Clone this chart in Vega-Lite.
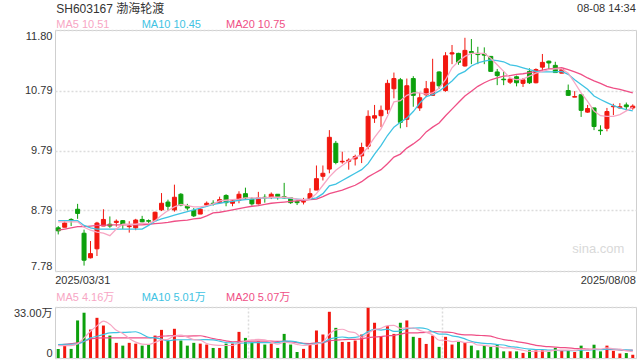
{
  "$schema": "https://vega.github.io/schema/vega-lite/v6.json",
  "padding": {"left": 0, "top": 2, "right": 5, "bottom": 5},
  "background": "white",
  "config": {
    "font": "Liberation Sans, Noto Sans CJK SC",
    "view": {"stroke": "#cfcfcf", "strokeWidth": 1},
    "axis": {"domain": false, "ticks": false, "labelFont": "Liberation Sans, Noto Sans CJK SC", "labelFontSize": 11, "labelColor": "#333333", "gridColor": "#dcdcdc", "gridDash": [2, 2], "gridWidth": 1.5},
    "text": {"font": "Liberation Sans, Noto Sans CJK SC"},
    "concat": {"spacing": 5}
  },
  "datasets": {
    "k": [
      {"d":"2025/03/31","o":8.50,"h":8.53,"l":8.39,"c":8.45,"v":5.9,"m5":8.60,"m10":8.62,"m20":8.46,"a5":8.0,"a10":8.7,"a20":8.7},
      {"d":"2025/04/01","o":8.51,"h":8.61,"l":8.51,"c":8.58,"v":8.7,"m5":8.60,"m10":8.62,"m20":8.48,"a5":8.0,"a10":8.9,"a20":8.9},
      {"d":"2025/04/02","o":8.64,"h":8.66,"l":8.53,"c":8.62,"v":5.9,"m5":8.60,"m10":8.62,"m20":8.50,"a5":8.0,"a10":8.9,"a20":9.3},
      {"d":"2025/04/03","o":8.81,"h":8.90,"l":8.65,"c":8.74,"v":24.3,"m5":8.60,"m10":8.62,"m20":8.52,"a5":9.3,"a10":9.1,"a20":9.8},
      {"d":"2025/04/07","o":8.41,"h":8.47,"l":7.87,"c":7.96,"v":29.3,"m5":8.51,"m10":8.54,"m20":8.52,"a5":13.0,"a10":10.8,"a20":10.6},
      {"d":"2025/04/08","o":8.00,"h":8.28,"l":7.99,"c":8.07,"v":18.4,"m5":8.46,"m10":8.50,"m20":8.53,"a5":17.3,"a10":13.0,"a20":12.4},
      {"d":"2025/04/09","o":8.15,"h":8.60,"l":8.03,"c":8.58,"v":26.0,"m5":8.43,"m10":8.48,"m20":8.54,"a5":20.8,"a10":14.1,"a20":12.8},
      {"d":"2025/04/10","o":8.53,"h":8.81,"l":8.53,"c":8.64,"v":21.0,"m5":8.41,"m10":8.48,"m20":8.54,"a5":23.8,"a10":15.2,"a20":13.0},
      {"d":"2025/04/11","o":8.56,"h":8.69,"l":8.50,"c":8.53,"v":14.5,"m5":8.37,"m10":8.48,"m20":8.55,"a5":21.8,"a10":16.3,"a20":13.0},
      {"d":"2025/04/14","o":8.59,"h":8.64,"l":8.52,"c":8.61,"v":9.8,"m5":8.48,"m10":8.48,"m20":8.55,"a5":17.9,"a10":16.4,"a20":13.0},
      {"d":"2025/04/15","o":8.62,"h":8.63,"l":8.48,"c":8.56,"v":8.0,"m5":8.56,"m10":8.48,"m20":8.55,"a5":15.9,"a10":16.6,"a20":13.0},
      {"d":"2025/04/16","o":8.52,"h":8.61,"l":8.42,"c":8.53,"v":9.8,"m5":8.56,"m10":8.48,"m20":8.55,"a5":12.6,"a10":16.7,"a20":13.0},
      {"d":"2025/04/17","o":8.50,"h":8.65,"l":8.46,"c":8.63,"v":9.3,"m5":8.56,"m10":8.48,"m20":8.55,"a5":10.3,"a10":17.0,"a20":13.0},
      {"d":"2025/04/18","o":8.64,"h":8.70,"l":8.59,"c":8.60,"v":8.0,"m5":8.58,"m10":8.48,"m20":8.55,"a5":9.0,"a10":15.4,"a20":13.0},
      {"d":"2025/04/21","o":8.62,"h":8.64,"l":8.55,"c":8.61,"v":8.7,"m5":8.57,"m10":8.54,"m20":8.56,"a5":8.8,"a10":13.4,"a20":13.0},
      {"d":"2025/04/22","o":8.62,"h":8.77,"l":8.62,"c":8.76,"v":14.5,"m5":8.62,"m10":8.61,"m20":8.57,"a5":10.1,"a10":13.0,"a20":13.4},
      {"d":"2025/04/23","o":8.80,"h":9.08,"l":8.78,"c":8.91,"v":18.2,"m5":8.71,"m10":8.65,"m20":8.58,"a5":11.7,"a10":12.2,"a20":14.1},
      {"d":"2025/04/24","o":8.93,"h":8.97,"l":8.78,"c":8.86,"v":11.3,"m5":8.79,"m10":8.68,"m20":8.59,"a5":12.1,"a10":11.2,"a20":14.3},
      {"d":"2025/04/25","o":8.80,"h":9.22,"l":8.77,"c":9.01,"v":18.9,"m5":8.85,"m10":8.71,"m20":8.61,"a5":14.3,"a10":11.7,"a20":14.5},
      {"d":"2025/04/28","o":9.06,"h":9.08,"l":8.86,"c":8.88,"v":11.3,"m5":8.89,"m10":8.74,"m20":8.62,"a5":14.8,"a10":11.8,"a20":14.1},
      {"d":"2025/04/29","o":8.86,"h":8.90,"l":8.79,"c":8.83,"v":8.0,"m5":8.87,"m10":8.77,"m20":8.63,"a5":13.5,"a10":11.8,"a20":14.2},
      {"d":"2025/04/30","o":8.79,"h":8.83,"l":8.68,"c":8.70,"v":9.8,"m5":8.85,"m10":8.80,"m20":8.65,"a5":11.9,"a10":11.8,"a20":14.3},
      {"d":"2025/05/06","o":8.73,"h":8.83,"l":8.73,"c":8.81,"v":9.3,"m5":8.85,"m10":8.83,"m20":8.66,"a5":11.5,"a10":11.8,"a20":14.4},
      {"d":"2025/05/07","o":8.88,"h":8.94,"l":8.86,"c":8.91,"v":8.7,"m5":8.87,"m10":8.86,"m20":8.70,"a5":9.4,"a10":11.9,"a20":13.6},
      {"d":"2025/05/08","o":8.91,"h":8.96,"l":8.87,"c":8.90,"v":6.5,"m5":8.90,"m10":8.89,"m20":8.75,"a5":8.5,"a10":11.7,"a20":12.5},
      {"d":"2025/05/09","o":8.92,"h":9.02,"l":8.92,"c":8.97,"v":6.5,"m5":8.95,"m10":8.91,"m20":8.76,"a5":8.2,"a10":10.9,"a20":11.9},
      {"d":"2025/05/12","o":9.04,"h":9.06,"l":8.86,"c":8.92,"v":9.3,"m5":8.96,"m10":8.93,"m20":8.78,"a5":8.1,"a10":10.0,"a20":11.1},
      {"d":"2025/05/13","o":8.91,"h":8.98,"l":8.86,"c":8.95,"v":9.3,"m5":8.97,"m10":8.94,"m20":8.80,"a5":8.1,"a10":9.8,"a20":10.5},
      {"d":"2025/05/14","o":8.96,"h":9.11,"l":8.91,"c":9.06,"v":16.9,"m5":8.98,"m10":8.96,"m20":8.82,"a5":9.7,"a10":9.6,"a20":10.6},
      {"d":"2025/05/15","o":9.07,"h":9.17,"l":8.97,"c":9.00,"v":13.0,"m5":9.00,"m10":8.97,"m20":8.84,"a5":11.0,"a10":9.7,"a20":10.8},
      {"d":"2025/05/16","o":8.98,"h":9.01,"l":8.87,"c":8.90,"v":9.8,"m5":9.00,"m10":8.98,"m20":8.86,"a5":11.7,"a10":9.9,"a20":10.9},
      {"d":"2025/05/19","o":8.90,"h":9.10,"l":8.89,"c":9.00,"v":10.8,"m5":9.00,"m10":8.99,"m20":8.87,"a5":12.0,"a10":10.0,"a20":10.9},
      {"d":"2025/05/20","o":9.01,"h":9.06,"l":8.92,"c":9.00,"v":8.7,"m5":9.00,"m10":9.00,"m20":8.89,"a5":11.8,"a10":10.0,"a20":10.9},
      {"d":"2025/05/21","o":9.01,"h":9.09,"l":8.98,"c":9.06,"v":9.3,"m5":9.01,"m10":9.00,"m20":8.91,"a5":10.3,"a10":10.0,"a20":10.9},
      {"d":"2025/05/22","o":9.06,"h":9.06,"l":8.97,"c":9.02,"v":6.5,"m5":9.01,"m10":9.00,"m20":8.92,"a5":9.0,"a10":10.0,"a20":10.8},
      {"d":"2025/05/23","o":9.02,"h":9.25,"l":8.99,"c":9.00,"v":15.6,"m5":9.01,"m10":9.00,"m20":8.93,"a5":10.2,"a10":10.9,"a20":10.9},
      {"d":"2025/05/26","o":9.00,"h":9.00,"l":8.90,"c":8.92,"v":8.7,"m5":9.00,"m10":8.99,"m20":8.94,"a5":9.8,"a10":10.9,"a20":10.4},
      {"d":"2025/05/27","o":8.94,"h":8.96,"l":8.88,"c":8.92,"v":3.9,"m5":8.98,"m10":8.98,"m20":8.95,"a5":8.8,"a10":10.3,"a20":10.0},
      {"d":"2025/05/28","o":8.93,"h":9.00,"l":8.89,"c":8.94,"v":5.9,"m5":8.97,"m10":8.97,"m20":8.96,"a5":8.1,"a10":9.2,"a20":9.4},
      {"d":"2025/05/29","o":8.98,"h":9.16,"l":8.98,"c":9.07,"v":8.7,"m5":8.98,"m10":8.98,"m20":8.97,"a5":8.6,"a10":8.8,"a20":9.3},
      {"d":"2025/05/30","o":9.13,"h":9.54,"l":9.13,"c":9.32,"v":17.8,"m5":9.07,"m10":9.00,"m20":8.98,"a5":9.0,"a10":9.6,"a20":9.8},
      {"d":"2025/06/03","o":9.36,"h":9.54,"l":9.29,"c":9.41,"v":15.2,"m5":9.21,"m10":9.07,"m20":9.02,"a5":10.3,"a10":10.0,"a20":10.0},
      {"d":"2025/06/04","o":9.48,"h":10.13,"l":9.41,"c":10.01,"v":29.9,"m5":9.35,"m10":9.20,"m20":9.07,"a5":15.5,"a10":12.2,"a20":11.1},
      {"d":"2025/06/05","o":9.91,"h":9.95,"l":9.56,"c":9.59,"v":19.5,"m5":9.46,"m10":9.23,"m20":9.10,"a5":18.2,"a10":13.2,"a20":11.6},
      {"d":"2025/06/06","o":9.60,"h":9.77,"l":9.57,"c":9.61,"v":10.4,"m5":9.54,"m10":9.29,"m20":9.13,"a5":18.6,"a10":13.6,"a20":11.8},
      {"d":"2025/06/09","o":9.61,"h":9.66,"l":9.47,"c":9.63,"v":10.4,"m5":9.62,"m10":9.35,"m20":9.17,"a5":17.1,"a10":13.0,"a20":12.0},
      {"d":"2025/06/10","o":9.65,"h":9.72,"l":9.54,"c":9.69,"v":11.3,"m5":9.68,"m10":9.41,"m20":9.21,"a5":16.3,"a10":13.3,"a20":12.1},
      {"d":"2025/06/11","o":9.70,"h":9.92,"l":9.58,"c":9.84,"v":15.2,"m5":9.72,"m10":9.47,"m20":9.27,"a5":13.4,"a10":14.4,"a20":12.4},
      {"d":"2025/06/12","o":9.86,"h":10.46,"l":9.81,"c":10.36,"v":32.5,"m5":9.85,"m10":9.57,"m20":9.35,"a5":16.0,"a10":17.1,"a20":13.2},
      {"d":"2025/06/13","o":10.33,"h":10.55,"l":10.25,"c":10.37,"v":22.8,"m5":10.01,"m10":9.73,"m20":9.41,"a5":18.4,"a10":18.5,"a20":13.6},
      {"d":"2025/06/16","o":10.37,"h":10.54,"l":10.18,"c":10.46,"v":14.1,"m5":10.15,"m10":9.87,"m20":9.47,"a5":19.2,"a10":18.1,"a20":13.9},
      {"d":"2025/06/17","o":10.47,"h":10.97,"l":10.40,"c":10.91,"v":20.6,"m5":10.36,"m10":10.04,"m20":9.57,"a5":21.0,"a10":18.7,"a20":14.4},
      {"d":"2025/06/18","o":10.82,"h":11.09,"l":10.66,"c":10.99,"v":15.6,"m5":10.60,"m10":10.18,"m20":9.68,"a5":21.1,"a10":17.2,"a20":14.7},
      {"d":"2025/06/19","o":10.97,"h":11.00,"l":10.16,"c":10.26,"v":22.8,"m5":10.62,"m10":10.26,"m20":9.73,"a5":19.2,"a10":17.6,"a20":15.4},
      {"d":"2025/06/20","o":10.31,"h":10.99,"l":10.18,"c":10.87,"v":24.3,"m5":10.71,"m10":10.33,"m20":9.83,"a5":19.5,"a10":19.0,"a20":16.3},
      {"d":"2025/06/23","o":10.99,"h":11.03,"l":10.52,"c":10.71,"v":13.7,"m5":10.75,"m10":10.44,"m20":9.90,"a5":19.4,"a10":19.3,"a20":16.2},
      {"d":"2025/06/24","o":10.50,"h":10.75,"l":10.45,"c":10.67,"v":13.0,"m5":10.75,"m10":10.58,"m20":9.98,"a5":17.9,"a10":19.5,"a20":16.4},
      {"d":"2025/06/25","o":10.72,"h":10.95,"l":10.68,"c":10.82,"v":9.1,"m5":10.73,"m10":10.69,"m20":10.10,"a5":16.6,"a10":18.9,"a20":16.6},
      {"d":"2025/06/26","o":10.71,"h":11.32,"l":10.70,"c":10.93,"v":14.5,"m5":10.75,"m10":10.72,"m20":10.18,"a5":14.9,"a10":17.1,"a20":17.1},
      {"d":"2025/06/27","o":11.10,"h":11.11,"l":10.82,"c":10.87,"v":7.2,"m5":10.83,"m10":10.78,"m20":10.25,"a5":11.5,"a10":15.5,"a20":17.0},
      {"d":"2025/06/30","o":10.79,"h":11.43,"l":10.77,"c":11.37,"v":13.7,"m5":10.97,"m10":10.86,"m20":10.37,"a5":11.5,"a10":15.5,"a20":16.8},
      {"d":"2025/07/01","o":11.40,"h":11.55,"l":11.23,"c":11.42,"v":8.7,"m5":11.17,"m10":10.95,"m20":10.48,"a5":10.6,"a10":14.3,"a20":16.5},
      {"d":"2025/07/02","o":11.41,"h":11.42,"l":11.22,"c":11.26,"v":10.4,"m5":11.28,"m10":11.06,"m20":10.59,"a5":10.9,"a10":13.7,"a20":15.5},
      {"d":"2025/07/03","o":11.20,"h":11.67,"l":11.19,"c":11.46,"v":9.8,"m5":11.36,"m10":11.11,"m20":10.70,"a5":10.0,"a10":12.4,"a20":15.0},
      {"d":"2025/07/04","o":11.44,"h":11.65,"l":11.23,"c":11.42,"v":8.0,"m5":11.41,"m10":11.20,"m20":10.78,"a5":10.1,"a10":10.8,"a20":14.9},
      {"d":"2025/07/07","o":11.41,"h":11.52,"l":11.23,"c":11.39,"v":5.0,"m5":11.41,"m10":11.25,"m20":10.86,"a5":8.4,"a10":9.9,"a20":14.6},
      {"d":"2025/07/08","o":11.40,"h":11.51,"l":11.23,"c":11.38,"v":8.0,"m5":11.41,"m10":11.28,"m20":10.92,"a5":8.2,"a10":9.4,"a20":14.5},
      {"d":"2025/07/09","o":11.36,"h":11.36,"l":11.11,"c":11.11,"v":7.2,"m5":11.33,"m10":11.30,"m20":10.97,"a5":7.6,"a10":9.3,"a20":14.1},
      {"d":"2025/07/10","o":11.10,"h":11.15,"l":10.88,"c":11.04,"v":8.7,"m5":11.22,"m10":11.29,"m20":11.00,"a5":7.4,"a10":8.7,"a20":12.9},
      {"d":"2025/07/11","o":10.98,"h":11.11,"l":10.88,"c":10.97,"v":4.3,"m5":11.11,"m10":11.27,"m20":11.03,"a5":6.6,"a10":8.4,"a20":11.9},
      {"d":"2025/07/14","o":10.93,"h":11.00,"l":10.90,"c":10.98,"v":4.3,"m5":11.00,"m10":11.22,"m20":11.04,"a5":6.5,"a10":7.4,"a20":11.4},
      {"d":"2025/07/15","o":11.02,"h":11.04,"l":10.86,"c":10.92,"v":4.3,"m5":10.97,"m10":11.20,"m20":11.06,"a5":5.8,"a10":7.0,"a20":10.6},
      {"d":"2025/07/16","o":10.91,"h":11.00,"l":10.85,"c":10.97,"v":3.3,"m5":10.98,"m10":11.17,"m20":11.07,"a5":5.0,"a10":6.3,"a20":10.0},
      {"d":"2025/07/17","o":11.11,"h":11.16,"l":10.90,"c":10.92,"v":5.0,"m5":11.03,"m10":11.14,"m20":11.09,"a5":4.2,"a10":5.8,"a20":9.1},
      {"d":"2025/07/18","o":10.92,"h":11.16,"l":10.91,"c":11.14,"v":5.0,"m5":11.08,"m10":11.11,"m20":11.11,"a5":4.4,"a10":5.5,"a20":8.2},
      {"d":"2025/07/21","o":11.18,"h":11.40,"l":11.12,"c":11.26,"v":5.0,"m5":11.11,"m10":11.10,"m20":11.13,"a5":4.5,"a10":5.5,"a20":7.7},
      {"d":"2025/07/22","o":11.28,"h":11.29,"l":11.15,"c":11.25,"v":3.9,"m5":11.14,"m10":11.10,"m20":11.15,"a5":4.4,"a10":5.1,"a20":7.3},
      {"d":"2025/07/23","o":11.21,"h":11.27,"l":11.09,"c":11.09,"v":6.5,"m5":11.15,"m10":11.10,"m20":11.16,"a5":5.1,"a10":5.0,"a20":7.1},
      {"d":"2025/07/24","o":11.08,"h":11.16,"l":11.08,"c":11.14,"v":5.0,"m5":11.15,"m10":11.11,"m20":11.17,"a5":5.1,"a10":4.7,"a20":6.7},
      {"d":"2025/07/25","o":10.79,"h":10.89,"l":10.70,"c":10.71,"v":5.0,"m5":11.08,"m10":11.06,"m20":11.14,"a5":5.1,"a10":4.7,"a20":6.6},
      {"d":"2025/07/28","o":10.68,"h":10.78,"l":10.68,"c":10.69,"v":3.9,"m5":10.92,"m10":10.97,"m20":11.10,"a5":4.9,"a10":4.7,"a20":6.1},
      {"d":"2025/07/29","o":10.72,"h":10.72,"l":10.35,"c":10.46,"v":8.0,"m5":10.75,"m10":10.89,"m20":11.06,"a5":5.7,"a10":5.1,"a20":6.0},
      {"d":"2025/07/30","o":10.43,"h":10.55,"l":10.42,"c":10.49,"v":3.9,"m5":10.61,"m10":10.81,"m20":11.00,"a5":5.2,"a10":5.1,"a20":5.7},
      {"d":"2025/07/31","o":10.50,"h":10.50,"l":10.13,"c":10.19,"v":8.6,"m5":10.45,"m10":10.70,"m20":10.95,"a5":5.9,"a10":5.5,"a20":5.6},
      {"d":"2025/08/01","o":10.13,"h":10.21,"l":10.05,"c":10.12,"v":4.3,"m5":10.37,"m10":10.64,"m20":10.91,"a5":5.7,"a10":5.4,"a20":5.5},
      {"d":"2025/08/04","o":10.16,"h":10.50,"l":10.11,"c":10.44,"v":8.0,"m5":10.36,"m10":10.59,"m20":10.86,"a5":6.6,"a10":5.7,"a20":5.6},
      {"d":"2025/08/05","o":10.52,"h":10.57,"l":10.38,"c":10.53,"v":4.6,"m5":10.36,"m10":10.54,"m20":10.83,"a5":5.9,"a10":5.8,"a20":5.4},
      {"d":"2025/08/06","o":10.50,"h":10.58,"l":10.49,"c":10.52,"v":2.9,"m5":10.39,"m10":10.50,"m20":10.81,"a5":5.7,"a10":5.4,"a20":5.2},
      {"d":"2025/08/07","o":10.55,"h":10.59,"l":10.46,"c":10.52,"v":3.2,"m5":10.45,"m10":10.47,"m20":10.78,"a5":4.6,"a10":5.2,"a20":5.0},
      {"d":"2025/08/08","o":10.50,"h":10.56,"l":10.47,"c":10.53,"v":2.1,"m5":10.51,"m10":10.45,"m20":10.75,"a5":4.16,"a10":5.01,"a20":5.07}
    ]
  },
  "vconcat": [
    {
      "width": 581,
      "height": 241,
      "data": {"name": "k"},
      "encoding": {
        "x": {"field": "d", "type": "ordinal", "sort": null, "title": null,
          "scale": {"paddingInner": 0, "paddingOuter": 0},
          "axis": {"values": ["2025/03/31", "2025/08/08"], "labelFlush": 10, "labelFlushOffset": 3, "labelPadding": 3, "labelAngle": 0, "grid": false}}
      },
      "layer": [
        {
          "mark": {"type": "rule", "strokeWidth": 1},
          "encoding": {
            "y": {"field": "l", "type": "quantitative", "title": null,
              "scale": {"domain": [7.78, 11.80], "nice": false, "zero": false},
              "axis": {"values": [7.78, 8.79, 9.79, 10.79, 11.80], "format": ".2f", "labelFlush": true, "grid": true, "labelPadding": 3, "minExtent": 54, "maxExtent": 54}},
            "y2": {"field": "h"},
            "color": {"condition": {"test": "datum.c >= datum.o", "value": "#f2170f"}, "value": "#0ca00c"}
          }
        },
        {
          "mark": {"type": "bar", "size": 4, "strokeWidth": 1},
          "encoding": {
            "y": {"field": "o", "type": "quantitative"},
            "y2": {"field": "c"},
            "fill": {"condition": {"test": "datum.c >= datum.o", "value": "#f2170f"}, "value": "#0ca00c"},
            "stroke": {"condition": {"test": "datum.c >= datum.o", "value": "#f2170f"}, "value": "#0ca00c"}
          }
        },
        {"mark": {"type": "line", "color": "#ef4f86", "strokeWidth": 1.3}, "encoding": {"y": {"field": "m20", "type": "quantitative"}}},
        {"mark": {"type": "line", "color": "#3fc3e3", "strokeWidth": 1.3}, "encoding": {"y": {"field": "m10", "type": "quantitative"}}},
        {"mark": {"type": "line", "color": "#f7a6c4", "strokeWidth": 1.3}, "encoding": {"y": {"field": "m5", "type": "quantitative"}}},
        {
          "data": {"values": [{"t": "SH603167 渤海轮渡"}]},
          "mark": {"type": "text", "align": "left", "baseline": "middle", "dx": -2, "dy": -21, "fontSize": 12, "color": "#333333"},
          "encoding": {"x": {"datum": "2025/03/31"}, "y": {"datum": 11.80}, "text": {"field": "t"}}
        },
        {
          "data": {"values": [{"t": "08-08 14:34"}]},
          "mark": {"type": "text", "align": "right", "baseline": "middle", "dx": 3, "dy": -21, "fontSize": 11, "color": "#333333"},
          "encoding": {"x": {"datum": "2025/08/08"}, "y": {"datum": 11.80}, "text": {"field": "t"}}
        },
        {
          "data": {"values": [{"t": "MA5 10.51"}]},
          "mark": {"type": "text", "align": "left", "baseline": "middle", "dx": -2, "dy": -5, "fontSize": 11, "color": "#f7a6c4"},
          "encoding": {"x": {"datum": "2025/03/31"}, "y": {"datum": 11.80}, "text": {"field": "t"}}
        },
        {
          "data": {"values": [{"t": "MA10 10.45"}]},
          "mark": {"type": "text", "align": "left", "baseline": "middle", "dx": -0.5, "dy": -5, "fontSize": 11, "color": "#3fc3e3"},
          "encoding": {"x": {"datum": "2025/04/18"}, "y": {"datum": 11.80}, "text": {"field": "t"}}
        },
        {
          "data": {"values": [{"t": "MA20 10.75"}]},
          "mark": {"type": "text", "align": "left", "baseline": "middle", "dx": 0, "dy": -5, "fontSize": 11, "color": "#ef4f86"},
          "encoding": {"x": {"datum": "2025/05/12"}, "y": {"datum": 11.80}, "text": {"field": "t"}}
        },
        {
          "data": {"values": [{"t": "sina.com"}]},
          "mark": {"type": "text", "align": "right", "baseline": "middle", "dx": 4.5, "fontSize": 13, "color": "#d9d9d9"},
          "encoding": {"x": {"datum": "2025/08/06"}, "y": {"datum": 8.14}, "text": {"field": "t"}}
        }
      ]
    },
    {
      "width": 581,
      "height": 51,
      "data": {"name": "k"},
      "encoding": {
        "x": {"field": "d", "type": "ordinal", "sort": null, "title": null,
          "scale": {"paddingInner": 0, "paddingOuter": 0},
          "axis": {"values": ["2025/05/16", "2025/06/30"], "labels": false, "grid": true, "bandPosition": 0}}
      },
      "layer": [
        {
          "mark": {"type": "bar", "size": 3},
          "encoding": {
            "y": {"field": "v", "type": "quantitative", "title": null,
              "scale": {"domain": [0, 33], "nice": false},
              "axis": {"values": [0, 33], "labelFlush": true, "grid": true, "labelPadding": 3, "minExtent": 54, "maxExtent": 54,
                "labelExpr": "datum.value == 0 ? '0' : format(datum.value, '.2f') + '万'"}},
            "color": {"condition": {"test": "datum.c >= datum.o", "value": "#f2170f"}, "value": "#0ca00c"}
          }
        },
        {"mark": {"type": "line", "color": "#ef4f86", "strokeWidth": 1.2, "interpolate": "monotone"}, "encoding": {"y": {"field": "a20", "type": "quantitative"}}},
        {"mark": {"type": "line", "color": "#3fc3e3", "strokeWidth": 1.2, "interpolate": "monotone"}, "encoding": {"y": {"field": "a10", "type": "quantitative"}}},
        {"mark": {"type": "line", "color": "#f7a6c4", "strokeWidth": 1.2, "interpolate": "monotone"}, "encoding": {"y": {"field": "a5", "type": "quantitative"}}},
        {
          "data": {"values": [{"t": "MA5 4.16万"}]},
          "mark": {"type": "text", "align": "left", "baseline": "middle", "dx": -2, "dy": -9, "fontSize": 11, "color": "#f7a6c4"},
          "encoding": {"x": {"datum": "2025/03/31"}, "y": {"datum": 33}, "text": {"field": "t"}}
        },
        {
          "data": {"values": [{"t": "MA10 5.01万"}]},
          "mark": {"type": "text", "align": "left", "baseline": "middle", "dx": -0.5, "dy": -9, "fontSize": 11, "color": "#3fc3e3"},
          "encoding": {"x": {"datum": "2025/04/18"}, "y": {"datum": 33}, "text": {"field": "t"}}
        },
        {
          "data": {"values": [{"t": "MA20 5.07万"}]},
          "mark": {"type": "text", "align": "left", "baseline": "middle", "dx": 0, "dy": -9, "fontSize": 11, "color": "#ef4f86"},
          "encoding": {"x": {"datum": "2025/05/12"}, "y": {"datum": 33}, "text": {"field": "t"}}
        }
      ]
    }
  ]
}
